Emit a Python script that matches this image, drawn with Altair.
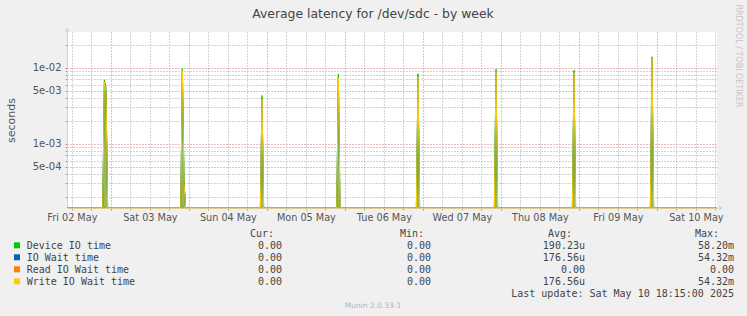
import altair as alt
import pandas as pd

# ---------------- data ----------------
title_text = "Average latency for /dev/sdc - by week"
y_title = "seconds"

t_start = "2025-05-02T10:30:00"
t_end = "2025-05-10T18:30:00"

# non-zero 30-min samples (all other samples are 0)
spike_times = [
    "2025-05-02T22:00:00", "2025-05-02T22:30:00",
    "2025-05-03T22:00:00", "2025-05-03T22:30:00",
    "2025-05-04T22:30:00",
    "2025-05-05T22:00:00",
    "2025-05-06T22:30:00",
    "2025-05-07T22:30:00",
    "2025-05-08T22:30:00",
    "2025-05-09T22:30:00",
]
device_io_time = [6.9e-3, 5.4e-3, 9.8e-3, 3.5e-4, 4.3e-3, 8.3e-3, 8.3e-3, 9.6e-3, 9.3e-3, 1.39e-2]
io_wait_time = [6.5e-3, 4.8e-3, 9.0e-3, 3.0e-4, 3.95e-3, 7.4e-3, 7.6e-3, 9.0e-3, 8.6e-3, 1.33e-2]
read_io_wait_time = [0, 0, 0, 0, 0, 0, 0, 0, 0, 0]
write_io_wait_time = [6.5e-3, 4.8e-3, 9.0e-3, 3.0e-4, 3.95e-3, 7.4e-3, 7.6e-3, 9.0e-3, 8.6e-3, 1.33e-2]

series_names = ["Device IO time", "IO Wait time", "Read IO Wait time", "Write IO Wait time"]
series_colors = ["#00CC00", "#0066B3", "#FF8000", "#FFCC00"]
series_values = [device_io_time, io_wait_time, read_io_wait_time, write_io_wait_time]

cur_vals = ["0.00", "0.00", "0.00", "0.00"]
min_vals = ["0.00", "0.00", "0.00", "0.00"]
avg_vals = ["190.23u", "176.56u", "0.00\u00a0", "176.56u"]
max_vals = ["58.20m", "54.32m", "0.00", "54.32m"]
last_update = "Last update: Sat May 10 18:15:00 2025"
munin_version = "Munin 2.0.33-1"
rrd_credit = "RRDTOOL / TOBI OETIKER"

y_min, y_max = 1.425e-4, 2.95e-2
y_grid_values = [2e-4, 3e-4, 4e-4, 5e-4, 6e-4, 7e-4, 8e-4, 9e-4,
                 1e-3, 2e-3, 3e-3, 4e-3, 5e-3, 6e-3, 7e-3, 8e-3, 9e-3,
                 1e-2, 2e-2]
y_label_values = [5e-4, 1e-3, 5e-3, 1e-2]
y_label_texts = ["5e-04", "1e-03", "5e-03", "1e-02"]

# ---------------- build tables ----------------
grid = pd.date_range(t_start, t_end, freq="30min")
grid_ms = list(grid.asi8 // 10**6)
spike_ms = list(pd.DatetimeIndex(spike_times).asi8 // 10**6)

rows = []
for name, vals in zip(series_names, series_values):
    lookup = dict(zip(spike_ms, vals))
    for t in grid_ms:
        rows.append({"t": int(t), "series": name, "value": float(lookup.get(t, 0.0))})
df = pd.DataFrame(rows)

x_domain = [int(grid_ms[0]), int(grid_ms[-1])]
x_grid_values = [int(v) for v in pd.date_range(
    "2025-05-02T12:00:00", "2025-05-10T18:00:00", freq="6h").asi8 // 10**6]

GRID_GRAY = "#a6a6a6"
GRID_RED = "#e07474"

y_test = " || ".join(f"abs(datum.value/{v} - 1) < 1e-6" for v in y_label_values)
y_label_expr = ""
for v, s in zip(y_label_values, y_label_texts):
    y_label_expr += f"abs(datum.value/{v} - 1) < 1e-6 ? '{s}' : "
y_label_expr += "''"

x_enc = alt.X(
    "t:T",
    scale=alt.Scale(type="utc", domain=x_domain),
    axis=alt.Axis(
        values=x_grid_values,
        labelExpr="utchours(datum.value) == 12 ? utcFormat(datum.value, '%a %d %b') : ''",
        title=None,
        grid=True,
        gridDash=[1, 2],
        gridColor={"condition": {"test": "utchours(datum.value) == 0", "value": GRID_RED}, "value": GRID_GRAY},
        tickColor={"condition": {"test": "utchours(datum.value) == 0", "value": GRID_RED}, "value": GRID_GRAY},
        tickSize=2,
        labelPadding=10,
        labelBaseline="alphabetic",
        labelFont="DejaVu Sans",
        labelFontSize=9.7,
        labelColor="#555555",
        labelOverlap=False,
        labelFlush=False,
        domainColor="#dccb92",
        domainWidth=1,
    ),
)
y_enc = alt.Y(
    "yv:Q",
    scale=alt.Scale(type="log", domain=[y_min, y_max]),
    axis=alt.Axis(
        values=y_grid_values,
        labelExpr=y_label_expr,
        title=y_title,
        titleFont="DejaVu Sans",
        titleFontSize=11,
        titleFontWeight="normal",
        titleColor="#555555",
        titleAngle=-90,
        titleX=-56,
        titleY=88,
        titleAlign="center",
        titleBaseline="middle",
        grid=True,
        gridDash=[1, 2],
        gridColor={"condition": {"test": y_test, "value": GRID_RED}, "value": GRID_GRAY},
        tickColor={"condition": {"test": y_test, "value": GRID_RED}, "value": GRID_GRAY},
        tickSize=2,
        labelPadding=4,
        labelFont="DejaVu Sans",
        labelFontSize=10,
        labelColor="#555555",
        labelOverlap=False,
        labelFlush=False,
        domainColor="#c8d0f4",
    ),
)

base = alt.Chart(df).transform_calculate(yv=f"max(datum.value, {y_min})")

area = base.transform_filter(alt.datum.series == series_names[0]).mark_area(
    color="#9cb84e", clip=True, interpolate="linear"
).encode(x=x_enc, y=y_enc, y2=alt.datum(y_min))

lines = [
    base.transform_filter(alt.datum.series == n).mark_line(
        color=c, strokeWidth=1, clip=True, interpolate="linear"
    ).encode(x=x_enc, y=y_enc)
    for n, c in zip(series_names, series_colors)
]


def text_layer(txt, x, y, size=10, color="#444444", align="left", font="DejaVu Sans Mono",
               baseline="alphabetic", angle=0, line_height=12):
    d = pd.DataFrame({"txt": [txt]})
    kw = dict(align=align, baseline=baseline, font=font, fontSize=size, color=color,
              lineHeight=line_height)
    if angle:
        kw["angle"] = angle
    return alt.Chart(d).mark_text(**kw).encode(
        text="txt:N", x=alt.value(x), y=alt.value(y))


texts = [
    text_layer(title_text, 306, -14.5, size=12.4, color="#444444", align="center", font="DejaVu Sans"),
    text_layer(rrd_credit, 671, 24, size=8, color="#c4c4c4", align="center", font="DejaVu Sans",
               baseline="middle", angle=90),
    text_layer(munin_version, 306, 275.7, size=7.5, color="#b4b4b4", align="center", font="DejaVu Sans"),
    text_layer("Cur:", 207, 205, align="right"),
    text_layer("Min:", 357, 205, align="right"),
    text_layer("Avg:", 505, 205, align="right"),
    text_layer("Max:", 652, 205, align="right"),
    text_layer(last_update, 667, 265, align="right"),
]

legend_rows = []
for i, (n, c) in enumerate(zip(series_names, series_colors)):
    yb = 217 + 12 * i
    legend_rows.append(
        alt.Chart(pd.DataFrame({"s": [n]})).mark_square(size=36, color=c, opacity=1, filled=True)
        .encode(x=alt.value(-50), y=alt.value(yb - 3.7))
    )
    legend_rows.append(text_layer(n, -40.3, yb))
    legend_rows.append(text_layer(cur_vals[i], 215, yb, align="right"))
    legend_rows.append(text_layer(min_vals[i], 364, yb, align="right"))
    legend_rows.append(text_layer(avg_vals[i], 518, yb, align="right"))
    legend_rows.append(text_layer(max_vals[i], 667, yb, align="right"))

arrows = [
    alt.Chart(pd.DataFrame({"a": ["up"]})).mark_point(shape="triangle-up", size=22, filled=True,
                                                      color="#c8d0f4", opacity=1)
    .encode(x=alt.value(0), y=alt.value(-2.5)),
    alt.Chart(pd.DataFrame({"a": ["right"]})).mark_point(shape="triangle-right", size=22, filled=True,
                                                         color="#c8d0f4", opacity=1)
    .encode(x=alt.value(654), y=alt.value(176)),
]

chart = alt.layer(area, *lines, *texts, *legend_rows, *arrows).properties(
    width=650,
    height=176,
    autosize=alt.AutoSizeParams(type="none"),
    padding={"left": 67, "top": 32, "right": 30, "bottom": 108},
).configure(background="#F0F0F0").configure_view(fill="white", strokeWidth=0)

chart.save("out.html", embed_options={"renderer": "svg", "actions": False})
